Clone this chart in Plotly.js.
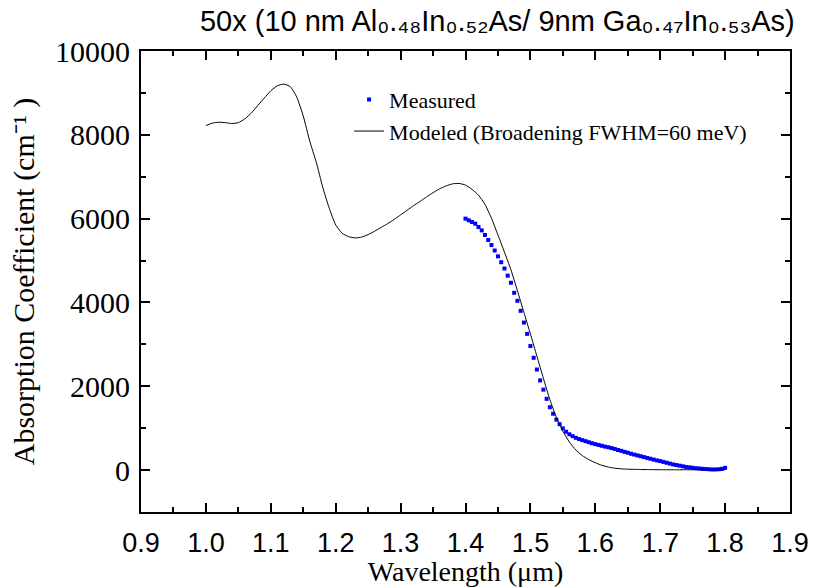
<!DOCTYPE html>
<html>
<head>
<meta charset="utf-8">
<script src="https://cdn.plot.ly/plotly-3.0.1.min.js"></script>
<style>html,body{margin:0;padding:0;background:#fff;}</style>
</head>
<body>
<div id="chart" style="width:814px;height:587px;"></div>
<script>
// Measured absorption (wavelength in µm, coefficient in cm^-1)
const measuredX = [1.400,1.405,1.410,1.415,1.420,1.425,1.430,1.435,1.440,1.445,1.450,1.455,1.460,1.465,1.470,1.475,1.480,1.485,1.490,1.495,1.500,1.505,1.510,1.515,1.520,1.525,1.530,1.535,1.540,1.545,1.550,1.555,1.560,1.565,1.570,1.575,1.580,1.585,1.590,1.595,1.600,1.605,1.610,1.615,1.620,1.625,1.630,1.635,1.640,1.645,1.650,1.655,1.660,1.665,1.670,1.675,1.680,1.685,1.690,1.695,1.700,1.705,1.710,1.715,1.720,1.725,1.730,1.735,1.740,1.745,1.750,1.755,1.760,1.765,1.770,1.775,1.780,1.785,1.790,1.795,1.800];
const measuredY = [6000,5960,5920,5880,5800,5720,5610,5490,5370,5240,5100,4960,4810,4640,4470,4230,4040,3800,3520,3250,2960,2680,2400,2140,1920,1700,1500,1345,1205,1095,995,915,855,810,770,740,715,690,665,640,620,600,580,560,545,525,505,480,460,435,415,390,370,350,330,310,290,270,250,230,215,195,175,155,135,120,105,90,75,65,55,45,38,30,25,20,15,15,20,30,55];

// Modeled absorption (Broadening FWHM = 60 meV)
const modelX = [1.00,1.01,1.02,1.03,1.04,1.05,1.06,1.07,1.08,1.09,1.10,1.11,1.12,1.13,1.14,1.15,1.16,1.17,1.18,1.19,1.20,1.21,1.22,1.23,1.24,1.25,1.26,1.27,1.28,1.29,1.30,1.31,1.32,1.33,1.34,1.35,1.36,1.37,1.38,1.39,1.40,1.41,1.42,1.43,1.44,1.45,1.46,1.47,1.48,1.49,1.50,1.51,1.52,1.53,1.54,1.55,1.56,1.57,1.58,1.59,1.60,1.61,1.62,1.63,1.64,1.65,1.66,1.67,1.68,1.69,1.70,1.71,1.72,1.73,1.74,1.75,1.76,1.77,1.78,1.79,1.80];
const modelY = [8220,8280,8300,8290,8270,8290,8380,8520,8700,8880,9050,9170,9210,9150,8900,8450,7850,7350,6750,6250,5850,5650,5570,5540,5560,5620,5700,5790,5880,5980,6090,6200,6310,6410,6520,6620,6710,6780,6830,6840,6800,6700,6560,6340,6010,5610,5200,4780,4280,3760,3250,2720,2190,1680,1260,930,670,480,345,250,175,115,72,45,30,22,18,14,12,10,9,8,8,8,8,8,8,8,8,8,8];

const seriesNames = ['Measured', 'Modeled (Broadening FWHM=60 meV)'];
const chartTitle = '50x (10 nm Al\u2080.\u2084\u2088In\u2080.\u2085\u2082As/ 9nm Ga\u2080.\u2084\u2087In\u2080.\u2085\u2083As)';
const xTitle = 'Wavelength (\u03bcm)';
const yTitle = 'Absorption Coefficient (cm\u207b\u00b9 )';

const serif = 'Liberation Serif, Times New Roman, serif';
const sans = 'Liberation Sans, Arial, sans-serif';

const traces = [
  {x: measuredX, y: measuredY, type: 'scatter', mode: 'markers', name: seriesNames[0],
   marker: {symbol: 'square', size: 4, color: '#0000ff'}},
  {x: modelX, y: modelY, type: 'scatter', mode: 'lines', name: seriesNames[1],
   line: {color: '#000000', width: 1, shape: 'spline', smoothing: 0.5}}
];

const axisCommon = {
  showline: true, linecolor: '#000', linewidth: 2, mirror: 'ticks',
  ticks: 'inside', ticklen: 9, tickwidth: 2, tickcolor: '#000',
  showgrid: false, zeroline: false
};

const layout = {
  width: 814, height: 587,
  margin: {l: 141, r: 24, t: 51, b: 75},
  paper_bgcolor: '#fff', plot_bgcolor: '#fff',
  showlegend: true,
  title: {
    text: chartTitle,
    font: {family: sans, size: 29, color: '#000'},
    x: 0.611, xanchor: 'center', xref: 'container',
    y: 0.981, yanchor: 'top', yref: 'container'
  },
  xaxis: Object.assign({}, axisCommon, {
    range: [0.9, 1.9], tick0: 0.9, dtick: 0.1, tickformat: '.1f',
    tickfont: {family: sans, size: 27, color: '#000'},
    ticklabelstandoff: 6,
    minor: {ticks: 'inside', ticklen: 5, tickwidth: 2, tickcolor: '#000', dtick: 0.05, showgrid: false},
    title: {text: xTitle, font: {family: serif, size: 28, color: '#000'}, standoff: 4}
  }),
  yaxis: Object.assign({}, axisCommon, {
    range: [-1000, 10000], tick0: 0, dtick: 2000, tickformat: 'd',
    tickfont: {family: serif, size: 30, color: '#000'},
    ticklabelstandoff: 3,
    minor: {ticks: 'inside', ticklen: 5, tickwidth: 2, tickcolor: '#000', dtick: 1000, showgrid: false},
    title: {text: yTitle, font: {family: serif, size: 30, color: '#000'}, standoff: 12}
  }),
  legend: {
    x: 0.3206, xanchor: 'left', y: 0.94, yanchor: 'top',
    bgcolor: 'rgba(0,0,0,0)', borderwidth: 0,
    font: {family: serif, size: 22, color: '#000'},
    tracegroupgap: 0
  }
};

Plotly.newPlot('chart', traces, layout, {displayModeBar: false, staticPlot: true});
</script>
</body>
</html>
